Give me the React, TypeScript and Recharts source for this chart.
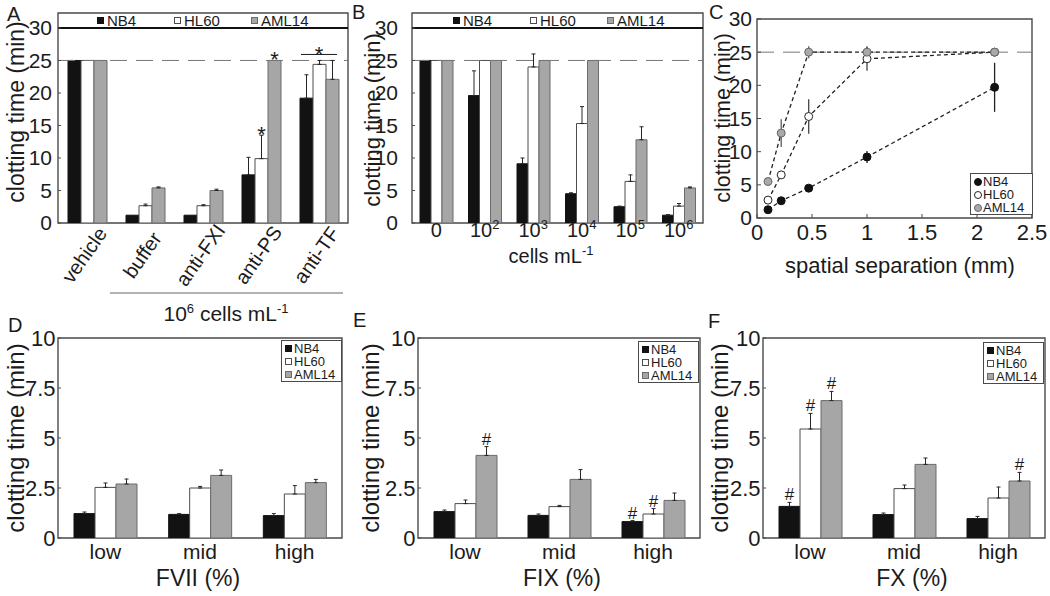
import React from "react"
import {
  ComposedChart,
  Bar,
  Line,
  XAxis,
  YAxis,
  ErrorBar,
  ReferenceLine,
  ReferenceArea,
  Legend,
  LabelList,
} from "recharts"

const FONT = '"Liberation Sans", Arial, Helvetica, sans-serif'
const INK = "#1b1b1b"
const FRAME = "#4a4a4a"

const cellLines = ["NB4", "HL60", "AML14"]
const fills: Record<string, string> = { NB4: "#121212", HL60: "#ffffff", AML14: "#a6a6a6" }
const edges: Record<string, string> = { NB4: "#121212", HL60: "#4d4d4d", AML14: "#6b6b6b" }
const dotFills: Record<string, string> = { NB4: "#111111", HL60: "#ffffff", AML14: "#a9a9a9" }
const dotEdges: Record<string, string> = { NB4: "#111111", HL60: "#222222", AML14: "#666666" }

const ticks30 = [0, 5, 10, 15, 20, 25, 30]
const ticks10 = [0, 2.5, 5, 7.5, 10]

// A: inhibitors, 10^6 cells/mL
const aCategories = ["vehicle", "buffer", "anti-FXI", "anti-PS", "anti-TF"]
const aNB4 = [25, 1.2, 1.2, 7.4, 19.2]
const aHL60 = [25, 2.66, 2.66, 9.9, 24.4]
const aAML14 = [25, 5.4, 5.0, 25, 22.1]
const aNB4Err = [0, 0, 0, 2.7, 3.6]
const aHL60Err = [0, 0.25, 0.15, 3.6, 0.6]
const aAML14Err = [0, 0.15, 0.2, 0, 2.9]
const aNB4Mark = ["", "", "", "", ""]
const aHL60Mark = ["", "", "", "*", ""]
const aAML14Mark = ["", "", "", "*", ""]
const aGroupMark = ["", "", "", "", "*"]

// B: cell concentration
const bCategories = ["0", "10^2", "10^3", "10^4", "10^5", "10^6"]
const bNB4 = [25, 19.6, 9.1, 4.5, 2.5, 1.2]
const bHL60 = [25, 25, 24.0, 15.3, 6.4, 2.6]
const bAML14 = [25, 25, 25, 25, 12.8, 5.4]
const bNB4Err = [0, 3.8, 0.9, 0.15, 0.1, 0.08]
const bHL60Err = [0, 0, 2.0, 2.6, 1.0, 0.4]
const bAML14Err = [0, 0, 0, 0, 2.0, 0.15]

// C: spatial separation
const cX = [0.1, 0.22, 0.47, 1.0, 2.16]
const cNB4 = [1.25, 2.6, 4.5, 9.2, 19.7]
const cHL60 = [2.7, 6.5, 15.3, 24.0, 25]
const cAML14 = [5.5, 12.8, 25, 25, 25]
const cNB4Err = [0.2, 0.3, 0.3, 0.9, 3.7]
const cHL60Err = [0.2, 0.6, 2.6, 1.8, 0]
const cAML14Err = [0.2, 2.1, 0.9, 0.9, 0]

// D-F: factor levels
const factorLevels = ["low", "mid", "high"]

const dNB4 = [1.22, 1.18, 1.12]
const dHL60 = [2.53, 2.5, 2.2]
const dAML14 = [2.7, 3.13, 2.77]
const dNB4Err = [0.08, 0.04, 0.1]
const dHL60Err = [0.22, 0.08, 0.42]
const dAML14Err = [0.25, 0.27, 0.16]

const eNB4 = [1.32, 1.13, 0.82]
const eHL60 = [1.72, 1.57, 1.2]
const eAML14 = [4.13, 2.93, 1.88]
const eNB4Err = [0.08, 0.07, 0.05]
const eHL60Err = [0.18, 0.06, 0.27]
const eAML14Err = [0.44, 0.49, 0.37]
const eNB4Mark = ["", "", "#"]
const eHL60Mark = ["", "", "#"]
const eAML14Mark = ["#", "", ""]

const fNB4 = [1.58, 1.17, 0.97]
const fHL60 = [5.45, 2.47, 2.0]
const fAML14 = [6.87, 3.68, 2.85]
const fNB4Err = [0.2, 0.08, 0.11]
const fHL60Err = [0.78, 0.18, 0.55]
const fAML14Err = [0.46, 0.32, 0.43]
const fNB4Mark = ["#", "", ""]
const fHL60Mark = ["#", "", ""]
const fAML14Mark = ["#", "", "#"]

const noMarks = ["", "", ""]

function buildRows(cats: string[], vals: number[][], errs: number[][], marks: string[][], group: string[] = []) {
  return cats.map((cat, i) => {
    const row: Record<string, any> = { cat, group: group[i] || "" }
    cellLines.forEach((s, k) => {
      row[s] = vals[k][i]
      row[s + "Err"] = errs[k][i] > 0 ? [0, errs[k][i]] : null
      row[s + "Mark"] = (marks[k] && marks[k][i]) || ""
    })
    return row
  })
}

function pointRows(xs: number[], ys: number[], errs: number[]) {
  return xs.map((x, i) => ({ x, y: ys[i], err: errs[i] > 0 ? errs[i] : null }))
}

function boxOf(p: any) {
  const vb = p.viewBox && p.viewBox.height !== undefined ? p.viewBox : p
  return { x: Number(vb.x), y: Number(vb.y), w: Number(vb.width), h: Number(vb.height) }
}

// legend entries in series order
function ordered(payload: any[] | undefined) {
  return [...(payload || [])].sort((a, b) => cellLines.indexOf(a.value) - cellLines.indexOf(b.value))
}

// significance marks sit just above each error bar
const markContent = (vals: number[], errs: number[]) => (p: any) => {
  const v = p.value
  if (!v) return null
  const i = p.index
  const { x, y, w, h } = boxOf(p)
  const base = y + h
  const unit = h / vals[i]
  const top = base - (vals[i] + errs[i]) * unit
  const star = v === "*"
  return (
    <text x={x + w / 2} y={star ? top + 7 : top - 2} textAnchor="middle" fontSize={star ? 22 : 17} fontFamily={FONT} fill={INK}>
      {v}
    </text>
  )
}

// bracket over a whole group, hung off the first bar
const groupContent = (vals: number[][], errs: number[][]) => (p: any) => {
  const v = p.value
  if (!v) return null
  const i = p.index
  const { x, y, w, h } = boxOf(p)
  const base = y + h
  const unit = h / vals[0][i]
  const top = Math.max(...vals.map((vs, k) => vs[i] + errs[k][i]))
  const ly = base - top * unit - 6
  const x0 = x + 1
  const x1 = x + 3 * w - 2
  return (
    <g>
      <line x1={x0} x2={x1} y1={ly} y2={ly} stroke={INK} strokeWidth={1} />
      <text x={(x0 + x1) / 2} y={ly + 7.5} textAnchor="middle" fontSize={22} fontFamily={FONT} fill={INK}>
        {v}
      </text>
    </g>
  )
}

function barSeries(size: number, vals: number[][], errs: number[][], group: boolean) {
  return cellLines.map((s, k) => (
    <Bar
      key={s}
      dataKey={s}
      name={s}
      barSize={size}
      fill={fills[s]}
      stroke={edges[s]}
      strokeWidth={1}
      isAnimationActive={false}
    >
      <ErrorBar dataKey={s + "Err"} width={2} stroke="#262626" strokeWidth={1} direction="y" />
      <LabelList dataKey={s + "Mark"} content={markContent(vals[k], errs[k])} />
      {group && k === 0 ? <LabelList dataKey="group" content={groupContent(vals, errs)} /> : null}
    </Bar>
  ))
}

const yTitle = (x: number, cy: number, size: number) => () => (
  <text x={x} y={cy} transform={`rotate(-90 ${x} ${cy})`} textAnchor="middle" fontSize={size} fontFamily={FONT} fill={INK}>
    clotting time (min)
  </text>
)

const xTitle = (cx: number, y: number, text: string, size: number) => () => (
  <text x={cx} y={y} textAnchor="middle" fontSize={size} fontFamily={FONT} fill={INK}>
    {text}
  </text>
)

function RotatedTick(props: any) {
  const { x, y, payload } = props
  const ax = x + 3
  const ay = y + 36
  return (
    <text x={ax} y={ay} transform={`rotate(-55 ${ax} ${ay})`} textAnchor="middle" fontSize={20} fontFamily={FONT} fill={INK}>
      {payload.value}
    </text>
  )
}

function PowerTick(props: any) {
  const { x, y, payload } = props
  const [base, exp] = String(payload.value).split("^")
  return (
    <text x={x} y={y + 14} textAnchor="middle" fontSize={20} fontFamily={FONT} fill={INK}>
      {base}
      {exp ? (
        <tspan dy={-8} fontSize={13}>
          {exp}
        </tspan>
      ) : null}
    </text>
  )
}

const stripLegend = (pad: number) => (props: any) => {
  const items = ordered(props.payload)
  return (
    <div style={{ display: "flex", alignItems: "center", height: 15, paddingLeft: pad, fontFamily: FONT, fontSize: 15, color: INK, lineHeight: "15px" }}>
      {items.map((it) => (
        <div key={it.value} style={{ width: 77, display: "flex", alignItems: "center" }}>
          <span
            style={{
              display: "inline-block",
              width: 7,
              height: 7,
              boxSizing: "border-box",
              background: fills[it.value],
              border: `1px solid ${edges[it.value]}`,
              marginRight: 3,
            }}
          />
          <span>{it.value}</span>
        </div>
      ))}
    </div>
  )
}

const boxLegend = (kind: "square" | "circle") => (props: any) => {
  const items = ordered(props.payload)
  return (
    <div
      style={{
        width: "100%",
        height: "100%",
        boxSizing: "border-box",
        border: `1px solid ${FRAME}`,
        background: "#fff",
        padding: "1px 0 0 3px",
        fontFamily: FONT,
        fontSize: 13,
        lineHeight: "13px",
        color: INK,
      }}
    >
      {items.map((it) => (
        <div key={it.value} style={{ display: "flex", alignItems: "center", height: 13 }}>
          {kind === "square" ? (
            <span
              style={{
                display: "inline-block",
                width: 7,
                height: 7,
                boxSizing: "border-box",
                background: fills[it.value],
                border: `1px solid ${edges[it.value]}`,
                marginRight: 2,
              }}
            />
          ) : (
            <span
              style={{
                display: "inline-block",
                width: 8,
                height: 8,
                borderRadius: "50%",
                boxSizing: "border-box",
                background: dotFills[it.value],
                border: `1px solid ${dotEdges[it.value]}`,
                marginRight: 1,
              }}
            />
          )}
          <span>{it.value}</span>
        </div>
      ))}
    </div>
  )
}

const tickStyle = (size: number) => ({ fontSize: size, fill: INK, fontFamily: FONT })

function PanelA() {
  const vals = [aNB4, aHL60, aAML14]
  const errs = [aNB4Err, aHL60Err, aAML14Err]
  const rows = buildRows(aCategories, vals, errs, [aNB4Mark, aHL60Mark, aAML14Mark], aGroupMark)
  const footer = () => (
    <g>
      <line x1={110} x2={343} y1={293} y2={293} stroke="#666" strokeWidth={1.2} />
      <text x={226} y={321} textAnchor="middle" fontSize={21} fontFamily={FONT} fill={INK}>
        10
        <tspan dy={-8} fontSize={13}>6</tspan>
        <tspan dy={8}> cells mL</tspan>
        <tspan dy={-8} fontSize={13}>-1</tspan>
      </text>
    </g>
  )
  return (
    <ComposedChart width={360} height={330} data={rows} margin={{ top: 13, right: 12, bottom: 0, left: 0 }} barGap={0}>
      <XAxis dataKey="cat" height={107} interval={0} tickSize={0} tickMargin={0} axisLine={false} tick={<RotatedTick />} label={footer} />
      <YAxis
        width={58}
        domain={[0, 32.3]}
        allowDataOverflow
        ticks={ticks30}
        interval={0}
        tickSize={-3}
        tickMargin={9}
        axisLine={false}
        tickLine={{ stroke: FRAME }}
        tick={tickStyle(21)}
        label={yTitle(24, 112, 23)}
      />
      <ReferenceArea y1={0} y2={32.3} fill="none" stroke={FRAME} strokeWidth={1.4} ifOverflow="visible" />
      <ReferenceLine y={30} stroke="#111" strokeWidth={2} />
      <ReferenceLine y={25} stroke="#777" strokeDasharray="17 9" />
      {barSeries(13, vals, errs, true)}
      <Legend layout="vertical" align="center" verticalAlign="middle" wrapperStyle={{ left: 58, top: 13, width: 290, height: 15 }} content={stripLegend(39)} />
    </ComposedChart>
  )
}

function PanelB() {
  const vals = [bNB4, bHL60, bAML14]
  const errs = [bNB4Err, bHL60Err, bAML14Err]
  const rows = buildRows(bCategories, vals, errs, [[], [], []])
  const title = () => (
    <text x={211} y={263} textAnchor="middle" fontSize={20} fontFamily={FONT} fill={INK}>
      cells mL
      <tspan dy={-8} fontSize={13}>-1</tspan>
    </text>
  )
  return (
    <ComposedChart width={370} height={280} data={rows} margin={{ top: 13, right: 7, bottom: 0, left: 0 }} barGap={0}>
      <XAxis dataKey="cat" height={57} interval={0} tickSize={0} tickMargin={0} axisLine={false} tick={<PowerTick />} label={title} />
      <YAxis
        width={72}
        domain={[0, 32.3]}
        allowDataOverflow
        ticks={ticks30}
        interval={0}
        tickSize={-3}
        tickMargin={17}
        axisLine={false}
        tickLine={{ stroke: FRAME }}
        tick={tickStyle(21)}
        label={yTitle(40, 120, 22)}
      />
      <ReferenceArea y1={0} y2={32.3} fill="none" stroke={FRAME} strokeWidth={1.4} ifOverflow="visible" />
      <ReferenceLine y={30} stroke="#111" strokeWidth={2} />
      <ReferenceLine y={25} stroke="#777" strokeDasharray="17 9" />
      {barSeries(11, vals, errs, false)}
      <Legend layout="vertical" align="center" verticalAlign="middle" wrapperStyle={{ left: 72, top: 13, width: 291, height: 15 }} content={stripLegend(41)} />
    </ComposedChart>
  )
}

function PanelC() {
  const ys = [cNB4, cHL60, cAML14]
  const errs = [cNB4Err, cHL60Err, cAML14Err]
  const barColors = ["#222222", "#444444", "#5a5a5a"]
  return (
    <ComposedChart width={370} height={290} margin={{ top: 19, right: 18, bottom: 0, left: 0 }}>
      <XAxis
        type="number"
        dataKey="x"
        domain={[0, 2.5]}
        allowDataOverflow
        ticks={[0, 0.5, 1, 1.5, 2, 2.5]}
        interval={0}
        height={72}
        tickSize={-4}
        tickMargin={10}
        axisLine={false}
        tickLine={{ stroke: FRAME }}
        tick={tickStyle(22)}
        label={xTitle(220, 273, "spatial separation (mm)", 22)}
      />
      <YAxis
        type="number"
        domain={[0, 30]}
        allowDataOverflow
        ticks={ticks30}
        interval={0}
        width={77}
        tickSize={-4}
        tickMargin={9}
        axisLine={false}
        tickLine={{ stroke: FRAME }}
        tick={tickStyle(21)}
        label={yTitle(50, 118, 21.5)}
      />
      <ReferenceArea x1={0} x2={2.5} y1={0} y2={30} fill="none" stroke={FRAME} strokeWidth={1.4} ifOverflow="visible" />
      <ReferenceLine y={25} stroke="#777" strokeDasharray="17 9" />
      {cellLines.map((s, k) => (
        <Line
          key={s}
          data={pointRows(cX, ys[k], errs[k])}
          dataKey="y"
          name={s}
          stroke="#222"
          strokeWidth={1.3}
          strokeDasharray="4 3"
          isAnimationActive={false}
          activeDot={false}
          dot={{ r: 4, fill: dotFills[s], stroke: dotEdges[s], strokeWidth: 1, strokeDasharray: "none" }}
        >
          <ErrorBar dataKey="err" width={0} stroke={barColors[k]} strokeWidth={1.3} direction="y" />
        </Line>
      ))}
      <Legend layout="vertical" align="center" verticalAlign="middle" wrapperStyle={{ left: 290, top: 173, width: 63, height: 42 }} content={boxLegend("circle")} />
    </ComposedChart>
  )
}

function FactorPanel(props: {
  title: string
  vals: number[][]
  errs: number[][]
  marks: string[][]
  width: number
  yAxisWidth: number
  right: number
  titleX: number
  titleCx: number
  legendLeft: number
  legendTop: number
}) {
  const { title, vals, errs, marks, width, yAxisWidth, right, titleX, titleCx, legendLeft, legendTop } = props
  const rows = buildRows(factorLevels, vals, errs, marks)
  return (
    <ComposedChart width={width} height={296} data={rows} margin={{ top: 38, right, bottom: 0, left: 0 }} barGap={0}>
      <XAxis dataKey="cat" height={58} interval={0} tickSize={0} tickMargin={6} axisLine={false} tick={tickStyle(21)} label={xTitle(titleCx, 286, title, 23)} />
      <YAxis
        width={yAxisWidth}
        domain={[0, 10]}
        allowDataOverflow
        ticks={ticks10}
        interval={0}
        tickSize={-3}
        tickMargin={5.5}
        axisLine={false}
        tickLine={{ stroke: FRAME }}
        tick={tickStyle(22)}
        label={yTitle(titleX, 138, 24)}
      />
      <ReferenceArea y1={0} y2={10} fill="none" stroke={FRAME} strokeWidth={1.4} ifOverflow="visible" />
      {barSeries(21, vals, errs, false)}
      <Legend
        layout="vertical"
        align="center"
        verticalAlign="middle"
        wrapperStyle={{ left: legendLeft, top: legendTop, width: 61, height: 42 }}
        content={boxLegend("square")}
      />
    </ComposedChart>
  )
}

const panelLetters = [
  { t: "A", x: 7, y: 21 },
  { t: "B", x: 352, y: 19 },
  { t: "C", x: 709, y: 19 },
  { t: "D", x: 8, y: 332 },
  { t: "E", x: 353, y: 327 },
  { t: "F", x: 708, y: 328 },
]

export default function App() {
  const at = (left: number, top: number): React.CSSProperties => ({ position: "absolute", left, top })
  return (
    <div style={{ position: "absolute", left: 0, top: 0, width: 1050, height: 596, background: "#fff", overflow: "hidden", fontFamily: FONT }}>
      <div style={at(0, 0)}>
        <PanelA />
      </div>
      <div style={at(340, 0)}>
        <PanelB />
      </div>
      <div style={at(680, 0)}>
        <PanelC />
      </div>
      <div style={at(0, 300)}>
        <FactorPanel
          title="FVII (%)"
          vals={[dNB4, dHL60, dAML14]}
          errs={[dNB4Err, dHL60Err, dAML14Err]}
          marks={[noMarks, noMarks, noMarks]}
          width={355}
          yAxisWidth={58}
          right={13}
          titleX={24.4}
          titleCx={198}
          legendLeft={281}
          legendTop={40}
        />
      </div>
      <div style={at(350, 300)}>
        <FactorPanel
          title="FIX (%)"
          vals={[eNB4, eHL60, eAML14]}
          errs={[eNB4Err, eHL60Err, eAML14Err]}
          marks={[eNB4Mark, eHL60Mark, eAML14Mark]}
          width={355}
          yAxisWidth={68}
          right={5}
          titleX={29.4}
          titleCx={212}
          legendLeft={288}
          legendTop={41}
        />
      </div>
      <div style={at(700, 300)}>
        <FactorPanel
          title="FX (%)"
          vals={[fNB4, fHL60, fAML14]}
          errs={[fNB4Err, fHL60Err, fAML14Err]}
          marks={[fNB4Mark, fHL60Mark, fAML14Mark]}
          width={350}
          yAxisWidth={63}
          right={5}
          titleX={28.4}
          titleCx={212}
          legendLeft={283}
          legendTop={42}
        />
      </div>
      <svg width={1050} height={596} style={{ position: "absolute", left: 0, top: 0, pointerEvents: "none" }}>
        {panelLetters.map((l) => (
          <text key={l.t} x={l.x} y={l.y} fontSize={20} fontFamily={FONT} fill={INK}>
            {l.t}
          </text>
        ))}
      </svg>
    </div>
  )
}
